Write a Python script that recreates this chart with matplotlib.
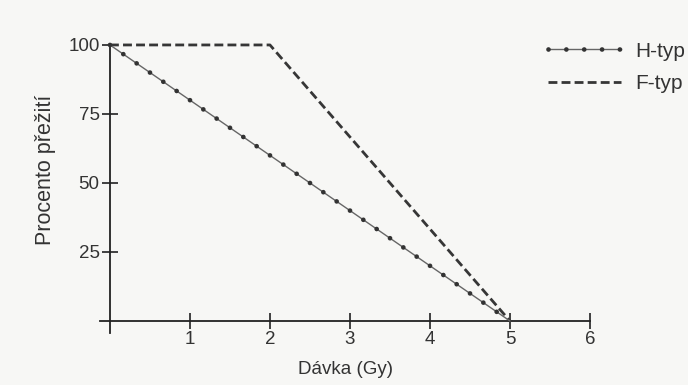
import matplotlib.pyplot as plt

plt.rcParams['font.family'] = ['Liberation Sans', 'DejaVu Sans']

# survival curves
dose_h = [0, 5]
surv_h = [100, 0]
dose_f = [0, 2, 5]
surv_f = [100, 100, 0]

xticks = [1, 2, 3, 4, 5, 6]
yticks = [25, 50, 75, 100]

fig = plt.figure(figsize=(6.88, 3.85), dpi=100, facecolor='#f7f7f5')
ax = fig.add_axes([0.1424, 0.134, 0.7209, 0.7564])
ax.set_facecolor('none')

# H-typ: thin line with round dots laid along it
h_line, = ax.plot(dose_h, surv_h, color='#666666', lw=1.0, zorder=3)
h_dots, = ax.plot(dose_h, surv_h, color='#333333', lw=3.4,
                  ls=(0, (0.001, 3.43)), dash_capstyle='round', zorder=4)
f_line, = ax.plot(dose_f, surv_f, color='#363636', lw=2.0,
                  ls=(0, (3.2, 1.5)), zorder=2)

ax.set_xlim(-0.15, 6.05)
ax.set_ylim(-4.5, 101)

for s in ['top', 'right']:
    ax.spines[s].set_visible(False)
ax.spines['left'].set_position(('data', 0))
ax.spines['bottom'].set_position(('data', 0))
ax.spines['left'].set_bounds(-4.3, 100)
ax.spines['bottom'].set_bounds(-0.13, 6)
for s in ['left', 'bottom']:
    ax.spines[s].set_linewidth(1.3)
    ax.spines[s].set_color('#222222')

ax.set_xticks(xticks)
ax.set_yticks(yticks)
ax.tick_params(axis='both', direction='inout', length=11, width=1.2,
               color='#222222', labelsize=13.5, labelcolor='#333333')
ax.tick_params(axis='x', pad=2)
ax.tick_params(axis='y', pad=2)

ax.set_xlabel('Dávka (Gy)', fontsize=13.5, color='#333333')
ax.xaxis.set_label_coords(0.5, -0.095)
ax.set_ylabel('Procento přežití', fontsize=15.5, color='#333333')
ax.yaxis.set_label_coords(-0.085, 0.561)

leg_dots = plt.Line2D([], [], color='#333333', lw=3.4, ls=(0, (0.001, 3.78)),
                      dash_capstyle='round')
fig.legend([(h_line, leg_dots), f_line], ['H-typ', 'F-typ'],
           loc='upper left', bbox_to_anchor=(548 / 688, 0.892), frameon=False,
           borderpad=0, borderaxespad=0,
           handlelength=3.5, handletextpad=0.7, labelspacing=0.64,
           fontsize=15, labelcolor='#333333')

fig.savefig('out.png', dpi=100, facecolor=fig.get_facecolor())
